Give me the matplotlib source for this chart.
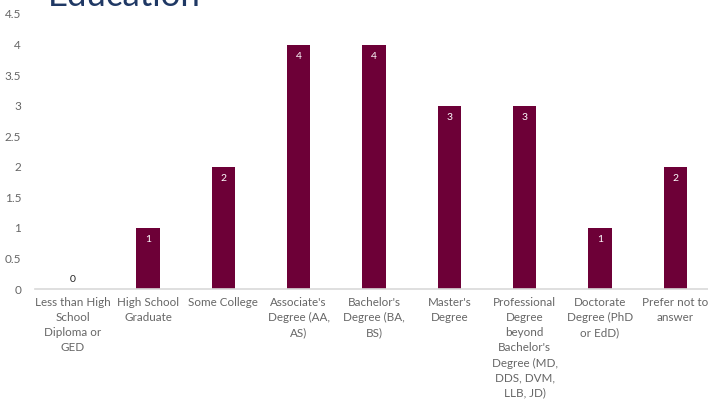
import matplotlib.pyplot as plt
import numpy as np

categories = ["Less than High\nSchool\nDiploma or\nGED", "High School\nGraduate", "Some College",
              "Associate's\nDegree (AA,\nAS)", "Bachelor's\nDegree (BA,\nBS)", "Master's\nDegree",
              "Professional\nDegree\nbeyond\nBachelor's\nDegree (MD,\nDDS, DVM,\nLLB, JD)",
              "Doctorate\nDegree (PhD\nor EdD)", "Prefer not to\nanswer"]
counts = [0, 1, 2, 4, 4, 3, 3, 1, 2]

plt.rcParams['font.family'] = ['Lato', 'DejaVu Sans']

fig = plt.figure(figsize=(7.08, 4.04), dpi=100)
ax = fig.add_axes([35 / 708, 115 / 404, 678 / 708, 275 / 404])

x = np.arange(len(categories))
bars = ax.bar(x, counts, width=0.31, color="#6d0037")

# labels on the bars
for xi, v in zip(x, counts):
    if v == 0:
        ax.text(xi, 0.08, str(v), ha="center", va="bottom", fontsize=7.5, color="#222222")
    else:
        ax.text(xi, v - 0.12, str(v), ha="center", va="top", fontsize=7.5, color="white")

ax.set_xlim(-0.5, len(categories) - 0.5)
ax.set_ylim(0, 4.5)
ax.set_yticks(np.arange(0, 4.6, 0.5))
ax.set_yticklabels(["0", "0.5", "1", "1.5", "2", "2.5", "3", "3.5", "4", "4.5"])
ax.set_xticks(x)
ax.set_xticklabels(categories, fontsize=8.4, color="#666666", linespacing=1.45)
ax.tick_params(axis="y", length=0, labelsize=8.5, labelcolor="#666666", pad=10)
ax.tick_params(axis="x", length=0, pad=6)

for s in ["top", "right", "left"]:
    ax.spines[s].set_visible(False)
ax.spines["bottom"].set_color("#d9d9d9")
ax.spines["bottom"].set_linewidth(1.2)

fig.text(48 / 708, 1 - 6 / 404, "Education", fontsize=25, color="#1f3864",
         ha="left", va="baseline")

fig.savefig("out.png", dpi=100)
